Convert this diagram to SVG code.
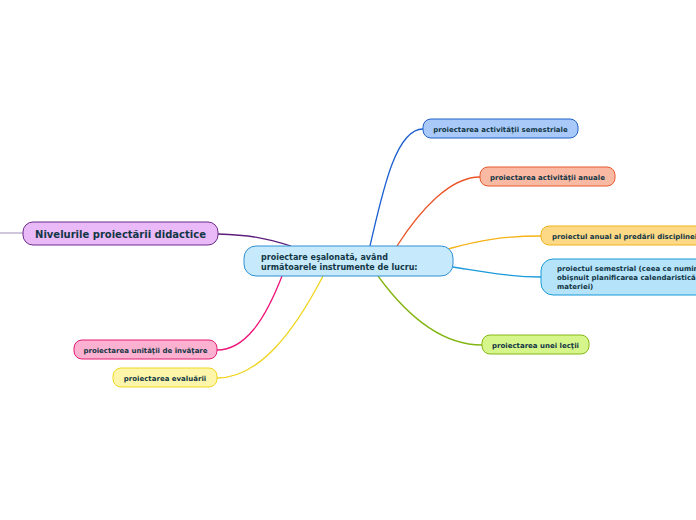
<svg xmlns="http://www.w3.org/2000/svg" width="696" height="520" viewBox="0 0 696 520">
<style>
text{font-family:"DejaVu Sans","Liberation Sans",sans-serif;font-weight:bold;fill:#123645}
.s{font-size:7px}
.c{font-size:8px}
.t{font-size:10px}
.l{fill:none;stroke-width:1.3}
.n{stroke-width:1}
</style>
<rect width="696" height="520" fill="#ffffff"/>
<g id="connectors">
<path class="l" d="M0,233 L23,233" stroke="#b9a9c9"/>
<path class="l" d="M218,234 C250,235 265,238 291,246" stroke="#5c1e7c"/>
<path class="l" d="M370,246 C382,195 395,129 423,129" stroke="#1b5fcf"/>
<path class="l" d="M397,246 C420,210 450,177 480,177" stroke="#ec5427"/>
<path class="l" d="M448,249 C480,240 505,236 541,236" stroke="#f6b216"/>
<path class="l" d="M453,267 C485,272 510,277 541,277" stroke="#1a9ad9"/>
<path class="l" d="M378,276 C410,320 445,345 482,345" stroke="#82b511"/>
<path class="l" d="M282,276 C265,320 245,350 217,350" stroke="#ee1478"/>
<path class="l" d="M323,276 C295,330 260,378 217,378" stroke="#f0d41c"/>
</g>
<g id="center">
<rect class="n" x="244" y="246" width="209" height="30" rx="12" fill="#c6eafb" stroke="#2e8fd4"/>
<text class="c" x="261" y="259.5">proiectare eşalonată, având</text>
<text class="c" x="261" y="269.5">următoarele instrumente de lucru:</text>
</g>
<g id="n1">
<rect class="n" x="423" y="119" width="155" height="19" rx="8" fill="#a9caf8" stroke="#1f60c8"/>
<text class="s" x="500.5" y="131.5" text-anchor="middle">proiectarea activităţii semestriale</text>
</g>
<g id="n2">
<rect class="n" x="480" y="167" width="135" height="19" rx="8" fill="#fab9a3" stroke="#e65a2c"/>
<text class="s" x="547.5" y="179.5" text-anchor="middle">proiectarea activităţii anuale</text>
</g>
<g id="n3">
<rect class="n" x="541" y="226" width="170" height="19" rx="8" fill="#fdd986" stroke="#f1b21f"/>
<text class="s" x="552" y="238.5">proiectul anual al predării disciplinei</text>
</g>
<g id="n4">
<rect class="n" x="541" y="259" width="170" height="36" rx="12" fill="#b4e3fa" stroke="#1b9ad8"/>
<text class="s" x="557" y="271">proiectul semestrial (ceea ce numim</text>
<text class="s" x="557" y="280">obişnuit planificarea calendaristică</text>
<text class="s" x="557" y="289">materiei)</text>
</g>
<g id="n5">
<rect class="n" x="482" y="335" width="107" height="19" rx="8" fill="#d6f58b" stroke="#86b715"/>
<text class="s" x="535.5" y="347.5" text-anchor="middle">proiectarea unei lecţii</text>
</g>
<g id="n6">
<rect class="n" x="23" y="222" width="195" height="23" rx="10" fill="#eab9f8" stroke="#6b2b8b"/>
<text class="t" x="120.5" y="237.5" text-anchor="middle">Nivelurile proiectării didactice</text>
</g>
<g id="n7">
<rect class="n" x="74" y="340" width="143" height="19" rx="8" fill="#fcb1d1" stroke="#e11a72"/>
<text class="s" x="145.5" y="352.5" text-anchor="middle">proiectarea unităţii de învăţare</text>
</g>
<g id="n8">
<rect class="n" x="113" y="368" width="104" height="19" rx="8" fill="#fdf6aa" stroke="#f0d722"/>
<text class="s" x="165" y="380.5" text-anchor="middle">proiectarea evaluării</text>
</g>
</svg>
